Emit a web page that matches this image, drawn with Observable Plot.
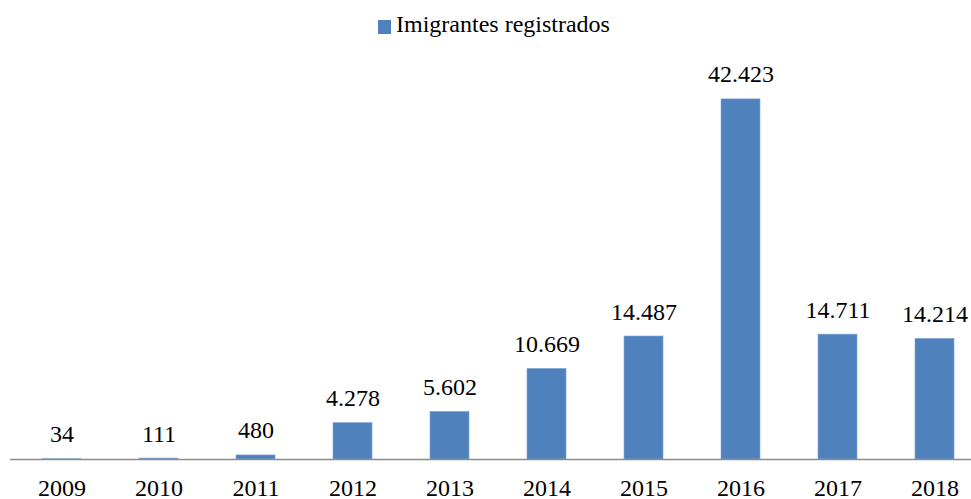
<!DOCTYPE html>
<html>
<head>
<meta charset="utf-8">
<script src="https://cdn.jsdelivr.net/npm/d3@7"></script>
<script src="https://cdn.jsdelivr.net/npm/@observablehq/plot@0.6"></script>
<style>
  html, body { margin: 0; padding: 0; background: #fff; overflow: hidden; }
  #wrap { position: relative; width: 971px; height: 499px; font-family: "Liberation Serif", Tinos, "Times New Roman", Times, "DejaVu Serif", serif; }
  #legend { position: absolute; left: 378px; top: 11px; font-size: 24px; color: #000; display: flex; align-items: center; white-space: nowrap; }
  #legend .sw { display: inline-block; width: 13px; height: 14px; background: #4F81BD; margin-right: 5px; margin-top: 4px; }
  #chart svg { position: absolute; left: 0; top: 0; }
</style>
</head>
<body>
<div id="wrap">
  <div id="chart"></div>
  <div id="legend"><span class="sw"></span><span>Imigrantes registrados</span></div>
</div>
<script>
const years = ["2009", "2010", "2011", "2012", "2013", "2014", "2015", "2016", "2017", "2018"];
const values = [34, 111, 480, 4278, 5602, 10669, 14487, 42423, 14711, 14214];
const seriesName = "Imigrantes registrados";

const data = years.map((y, i) => ({year: y, value: values[i]}));
const fmt = d3.formatLocale({decimal: ",", thousands: ".", grouping: [3], currency: ["R$", ""]}).format(",d");
const serif = "'Liberation Serif', Tinos, 'Times New Roman', Times, 'DejaVu Serif', serif";

const chart = Plot.plot({
  width: 971,
  height: 499,
  marginTop: 77,
  marginBottom: 40,
  marginLeft: 10,
  marginRight: 0,
  style: {fontFamily: serif, background: "transparent", overflow: "visible"},
  x: {domain: years, range: [9, 986], paddingInner: 0.6, paddingOuter: 0.3, axis: null, label: null},
  y: {domain: [0, 45000], axis: null},
  marks: [
    Plot.barY(data, {x: "year", y: "value", fill: "#4F81BD", stroke: "#7FA6D6", strokeWidth: 0.6}),
    Plot.ruleY([0], {stroke: "#8c8c8c", strokeWidth: 1.5}),
    Plot.text(data, {x: "year", y: "value", text: d => fmt(d.value), lineAnchor: "bottom", dy: -17, fontSize: 24, fill: "#000", fontFamily: serif}),
    Plot.axisX({domain: years, tickSize: 0, tickPadding: 19, fontSize: 24, color: "#000", label: null, fontFamily: serif})
  ]
});
document.getElementById("chart").appendChild(chart);
</script>
</body>
</html>
